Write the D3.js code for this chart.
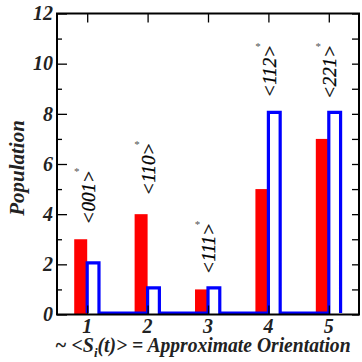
<!DOCTYPE html>
<html><head><meta charset="utf-8">
<script src="https://cdn.jsdelivr.net/npm/d3@7"></script>
<style>body{margin:0;background:#fff}svg{display:block}text{font-family:"Liberation Serif","Times New Roman",serif}</style>
</head><body><svg id="c" width="362" height="362"></svg>
<script>
const categories = [1, 2, 3, 4, 5];
const redValues = [3, 4, 1, 5, 7];
const blueValues = [2, 1, 1, 8, 8];
const orientationLabels = ["<001>", "<110>", "<111>", "<112>", "<221>"];
const labelTops = [5.75, 6.85, 3.65, 10.75, 10.75];
const yTicks = [0, 2, 4, 6, 8, 10, 12];
const yMinor = [1, 3, 5, 7, 9, 11];
const xTicks = [1, 2, 3, 4, 5];

const svg = d3.select("#c");
const L = 57, R = 359, T = 13.5, B = 314.5;
const x = d3.scaleLinear().domain([0.5, 5.5]).range([L, R]);
const y = d3.scaleLinear().domain([0, 12]).range([B, T]);
const bw = 0.215, ow = 0.195;

// red bars
svg.selectAll("rect.red").data(categories).join("rect")
  .attr("x", d => x(d - bw)).attr("width", d => x(d) - x(d - bw))
  .attr("y", (d, i) => y(redValues[i])).attr("height", (d, i) => y(0) - y(redValues[i]))
  .attr("fill", "#ff0000");

// blue step outline
const pts = [];
categories.forEach((c, i) => {
  pts.push([x(c), y(0)], [x(c), y(blueValues[i])], [x(c + ow), y(blueValues[i])], [x(c + ow), y(0)]);
});
svg.append("path").attr("d", d3.line()(pts.map(p => [p[0], p[1] - 1.5])))
  .attr("fill", "none").attr("stroke", "#0000ff").attr("stroke-width", 3.2).attr("stroke-linejoin", "miter");

// axes
const gl = svg.append("g").attr("transform", `translate(${L},0)`)
  .call(d3.axisRight(y).tickValues(yTicks).tickSize(10).tickFormat(""));
const glm = svg.append("g").attr("transform", `translate(${L},0)`)
  .call(d3.axisRight(y).tickValues(yMinor).tickSize(5).tickFormat(""));
const gr = svg.append("g").attr("transform", `translate(${R},0)`)
  .call(d3.axisLeft(y).tickValues(yTicks.concat(yMinor)).tickSize(7).tickFormat(""));
const gt = svg.append("g").attr("transform", `translate(0,${T})`)
  .call(d3.axisBottom(x).tickValues(xTicks).tickSize(9).tickFormat(""));
const gb = svg.append("g").attr("transform", `translate(0,${B})`)
  .call(d3.axisTop(x).tickValues(xTicks).tickSize(9).tickFormat(""));
[gl, glm, gr, gt, gb].forEach(g => {
  g.select(".domain").remove();
  g.selectAll("line").attr("stroke", "#000").attr("stroke-width", 1.3);
});
svg.append("rect").attr("x", L).attr("y", T).attr("width", R - L).attr("height", B - T)
  .attr("fill", "none").attr("stroke", "#000").attr("stroke-width", 2);

// tick labels
svg.selectAll("text.yt").data(yTicks).join("text").attr("class", "yt")
  .attr("x", 53).attr("y", d => y(d)).attr("dy", "0.34em").attr("text-anchor", "end")
  .attr("font-size", 20).attr("font-weight", "bold").attr("font-style", "italic").attr("fill", "#222")
  .text(d => d);
svg.selectAll("text.xt").data(xTicks).join("text").attr("class", "xt")
  .attr("x", d => x(d)).attr("y", 333).attr("text-anchor", "middle")
  .attr("font-size", 20).attr("font-weight", "bold").attr("font-style", "italic").attr("fill", "#222")
  .text(d => d);

// orientation labels
categories.forEach((c, i) => {
  const cx = x(c) + 1, ty = y(labelTops[i]);
  svg.append("text").attr("transform", `translate(${cx},${ty}) rotate(-90)`)
    .attr("dy", "0.34em").attr("text-anchor", "end")
    .attr("font-size", 19).attr("font-style", "italic").attr("fill", "#000")
    .attr("stroke", "#000").attr("stroke-width", 0.3)
    .text(orientationLabels[i]);
  svg.append("text").attr("x", cx - 11.5).attr("y", ty + 5).attr("text-anchor", "middle")
    .attr("font-size", 11).attr("fill", "#555").text("*");
});

// axis titles
svg.append("text").attr("transform", "translate(24,168) rotate(-90)").attr("text-anchor", "middle")
  .attr("font-size", 21).attr("font-weight", "bold").attr("font-style", "italic").attr("fill", "#222")
  .text("Population");
const xt = svg.append("text").attr("x", 55).attr("y", 352).attr("text-anchor", "start")
  .attr("font-size", 20).attr("font-weight", "bold").attr("font-style", "italic").attr("fill", "#222");
xt.append("tspan").text("~ <S");
xt.append("tspan").attr("font-size", 13).attr("dy", 5).text("i");
xt.append("tspan").attr("dy", -5).attr("textLength", 253).attr("lengthAdjust", "spacingAndGlyphs")
  .text("(t)> = Approximate Orientation");
</script></body></html>
